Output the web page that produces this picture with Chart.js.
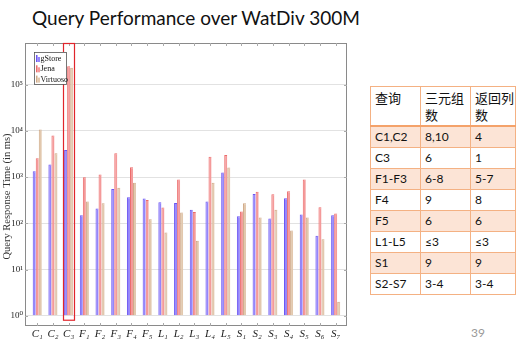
<!DOCTYPE html>
<html><head><meta charset="utf-8">
<script src="https://cdn.jsdelivr.net/npm/chart.js@4/dist/chart.umd.min.js"></script>
<style>
body{margin:0;width:526px;height:342px;position:relative;background:#fff;overflow:hidden}
#title{position:absolute;left:32px;top:6px;font:19px Lato,'Open Sans',sans-serif;color:#111;white-space:nowrap}
#c{position:absolute;left:0;top:0}
table{position:absolute;left:370px;top:86px;border-collapse:collapse;table-layout:fixed;width:145px;font:12px Lato,'Noto Sans CJK SC',sans-serif;color:#111}
td{border:1px solid #f4b183;padding:0 0 0 4px;height:20px;vertical-align:middle;line-height:14px;white-space:nowrap;overflow:hidden}
tr.h td{font:13px 'Noto Sans CJK SC',sans-serif;height:36px;vertical-align:top;line-height:17px;padding-top:2px;padding-left:4px;border-bottom:2px solid #f4a26a}
tr.o td{background:#fce4d6}
#pg{position:absolute;left:471px;top:325px;font:12px Lato,sans-serif;color:#999}
</style></head>
<body>
<div id="title">Query Performance over WatDiv 300M</div>
<canvas id="c" width="360" height="342"></canvas>
<table id="tbl"><colgroup><col style="width:50px"><col style="width:50px"><col style="width:45px"></colgroup></table>
<div id="pg">39</div>
<script>
const categories = ['C₁','C₂','C₃','F₁','F₂','F₃','F₄','F₅','L₁','L₂','L₃','L₄','L₅','S₁','S₂','S₃','S₄','S₅','S₆','S₇'];
const seriesNames = ['gStore','Jena','Virtuoso'];
const gStore   = [1343,1875,3890,150,209,557,368,344,287,277,196,296,1260,143,434,127,350,155,54,150];
const jena     = [2570,7950,252000,997,1138,3300,1640,322,220,888,177,2750,3030,180,480,427,496,888,223,163];
const virtuoso = [10700,3300,232000,296,273,586,752,123,63,171,42,752,1610,273,134,196,70,134,45,2.0];
const yTickValues = [1,10,100,1000,10000,100000];
const yTickLabels = ['10⁰','10¹','10²','10³','10⁴','10⁵'];
const yTitle = 'Query Response Time (in ms)';
const highlightIndex = 2;
const tableHeader = [['查询'],['三元组','数'],['返回列','数']];
const tableRows = [
  ['C1,C2','8,10','4'],['C3','6','1'],['F1-F3','6-8','5-7'],['F4','9','8'],
  ['F5','6','6'],['L1-L5','≤3','≤3'],['S1','9','9'],['S2-S7','3-4','3-4']
];

// table
const tbl = document.getElementById('tbl');
let h = '<tr class="h">' + tableHeader.map(t=>'<td>'+t.join('<br>')+'</td>').join('') + '</tr>';
tableRows.forEach((r,i)=>{ h += '<tr class="'+(i%2===0?'o':'')+'">' + r.map(c=>'<td>'+c+'</td>').join('') + '</tr>'; });
tbl.insertAdjacentHTML('beforeend', h);

const fills = ['#9486fb','#f49a9a','#e2c8ae'];
const edges = ['#6b55f2','#ec6b6b','#cfa987'];
const serif = "'Liberation Serif','DejaVu Serif',serif";

const frame = {
  id:'frame',
  afterDatasetsDraw(chart){
    const {ctx, chartArea:a, scales:{x,y}} = chart;
    ctx.save();
    ctx.strokeStyle = '#8a8a8a'; ctx.lineWidth = 1;
    ctx.strokeRect(a.left+0.5, a.top+0.5, a.right-a.left-1, a.bottom-a.top-1);
    ctx.strokeStyle = '#aaa';
    categories.forEach((_,i)=>{
      const px = Math.round(x.getPixelForValue(i))+0.5;
      ctx.beginPath(); ctx.moveTo(px,a.top); ctx.lineTo(px,a.top+3);
      ctx.moveTo(px,a.bottom); ctx.lineTo(px,a.bottom-3); ctx.stroke();
    });
    yTickValues.forEach(v=>{
      const py = Math.round(y.getPixelForValue(v))+0.5;
      ctx.beginPath(); ctx.moveTo(a.left,py); ctx.lineTo(a.left+3,py);
      ctx.moveTo(a.right,py); ctx.lineTo(a.right-3,py); ctx.stroke();
    });
    // highlight rectangle around C3
    const cx = x.getPixelForValue(highlightIndex);
    ctx.strokeStyle = '#e0252b'; ctx.lineWidth = 1.2;
    ctx.strokeRect(Math.round(cx-5.5)+0.5, a.top+0.5, 11, y.getPixelForValue(0.82)-a.top);
    // legend
    const lx = a.left+9, ly = a.top+9;
    ctx.fillStyle='#fff'; ctx.fillRect(lx,ly,32,32);
    ctx.strokeStyle='#555'; ctx.lineWidth=0.8; ctx.strokeRect(lx+0.5,ly+0.5,32,32);
    ctx.font = '8px '+serif; ctx.textBaseline='middle';
    seriesNames.forEach((n,i)=>{
      const yy = ly+6+i*10.3;
      ctx.fillStyle = edges[i]; ctx.fillRect(lx+2,yy-3,1.5,7);
      ctx.fillStyle = fills[i]; ctx.fillRect(lx+3.5,yy-1,2.5,5);
      ctx.fillStyle = '#111'; ctx.fillText(n, lx+6.5, yy+1);
    });
    // y axis title
    ctx.translate(7, (a.top+a.bottom)/2 + 12);
    ctx.rotate(-Math.PI/2);
    ctx.font = '10.5px '+serif; ctx.fillStyle='#333'; ctx.textAlign='center'; ctx.textBaseline='middle';
    ctx.fillText(yTitle, 0, 0);
    ctx.restore();
  }
};

new Chart(document.getElementById('c'), {
  type:'bar',
  data:{ datasets:[gStore,jena,virtuoso].map((arr,k)=>({
    label:seriesNames[k],
    data:arr.map((v,i)=>({x:i,y:v})),
    base:1,
    backgroundColor:fills[k], borderColor:edges[k],
    borderWidth:{left:1,top:1,right:0,bottom:0}, borderSkipped:false,
    barPercentage:1.0, categoryPercentage:0.58
  }))},
  options:{
    responsive:false, animation:false, devicePixelRatio:1,
    layout:{padding:{top:43,right:13,left:0,bottom:0}},
    plugins:{legend:{display:false},tooltip:{enabled:false}},
    scales:{
      x:{type:'linear', min:-0.78, max:19.72, offset:false,
        grid:{display:false, drawTicks:false}, border:{display:false},
        afterBuildTicks(s){ s.ticks = categories.map((_,i)=>({value:i})); },
        afterFit(s){ s.height = 16; },
        ticks:{autoSkip:false, maxRotation:0, padding:2, color:'#222',
          font:{family:serif, size:11, style:'italic'},
          callback:(v)=>categories[v]}
      },
      y:{type:'logarithmic', min:0.63, max:800000,
        grid:{color:'#e2e2e2', drawTicks:false}, border:{display:false},
        afterBuildTicks(s){ s.ticks = yTickValues.map(v=>({value:v})); },
        afterFit(s){ s.width = 25; },
        ticks:{padding:2, color:'#222', font:{family:serif,size:9},
          callback:(v)=>yTickLabels[yTickValues.indexOf(v)] ?? ''}
      }
    }
  },
  plugins:[frame]
});
</script>
</body></html>
